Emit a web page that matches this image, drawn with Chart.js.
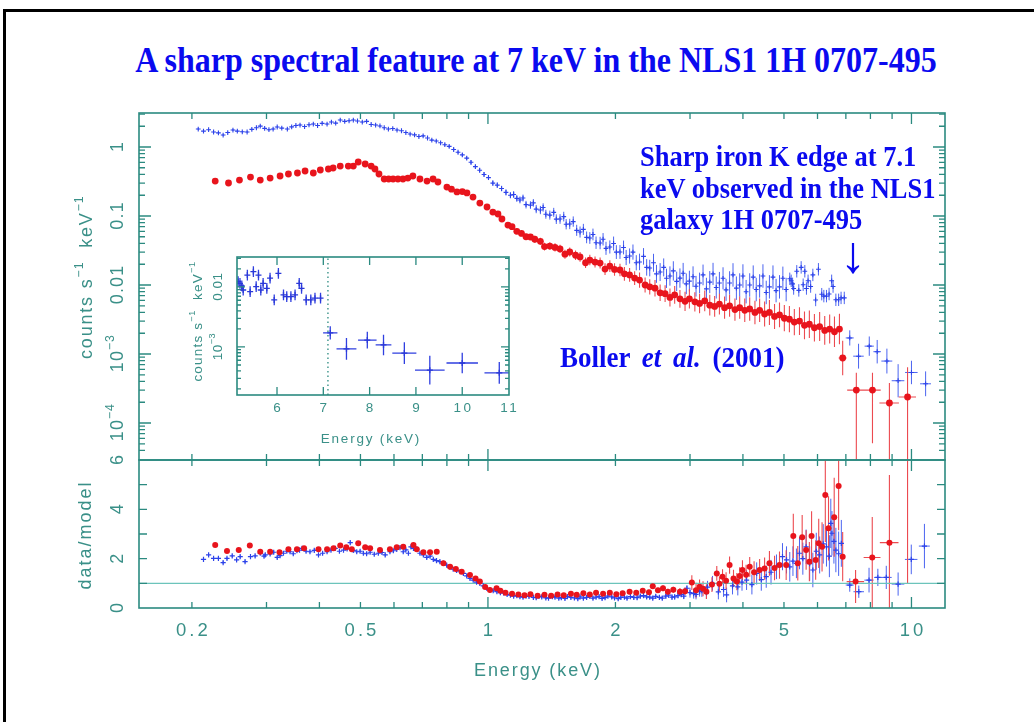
<!DOCTYPE html>
<html><head><meta charset="utf-8">
<script src="https://cdn.jsdelivr.net/npm/chart.js@4.4.1/dist/chart.umd.min.js"></script>
<style>
html,body{margin:0;padding:0;background:#fff;width:1034px;height:722px;overflow:hidden;}
#frame{position:absolute;left:3px;top:9px;width:1100px;height:800px;border-top:3px solid #000;border-left:3px solid #000;}
canvas{position:absolute;left:0;top:0;}
.t{position:absolute;font-family:'Liberation Serif','Times New Roman',serif;font-weight:bold;color:#0a0aef;white-space:nowrap;transform-origin:0 0;transform:scaleY(1.1);}
</style></head><body>
<div id="frame"></div>
<div class="t" id="title" style="left:0;width:1072px;text-align:center;top:41.5px;font-size:32px;line-height:32px;">A sharp spectral feature at 7 keV in the NLS1 1H 0707-495</div>
<canvas id="cTop" width="1034" height="722"></canvas>
<canvas id="cBot" width="1034" height="722"></canvas>
<canvas id="cIns" width="1034" height="722"></canvas>
<div class="t" style="left:640px;top:141.4px;font-size:26.5px;line-height:28.6px;">Sharp iron K edge at 7.1<br>keV observed in the NLS1<br>galaxy 1H 0707-495</div>
<div class="t" style="left:823px;top:229px;width:60px;text-align:center;font-size:52px;line-height:52px;font-weight:normal;transform:none;">↓</div>
<div class="t" style="left:560px;top:343px;font-size:27px;line-height:27px;word-spacing:5px;">Boller <i>et al.</i> (2001)</div>
<script>
// ---------------- DATA ----------------
// Energy axis
const energyTickValues = [0.2, 0.5, 1, 2, 5, 10];
const energyTickLabels = ['0.2', '0.5', '1', '2', '5', '10'];
const energyTitle = 'Energy (keV)';
// Count-rate axis
const rateTickValues = [1, 0.1, 0.01, 1e-3, 1e-4];
const rateTickLabels = ['1', '0.1', '0.01', '10^{−3}', '10^{−4}'];
const rateTitle = 'counts s^{−1}  keV^{−1}';
// Ratio axis
const ratioTickValues = [0, 2, 4, 6];
const ratioTickLabels = ['0', '2', '4', '6'];
const ratioTitle = 'data/model';
// Inset axes
const insetEnergyTickValues = [6, 7, 8, 9, 10, 11];
const insetEnergyTickLabels = ['6', '7', '8', '9', '10', '11'];
const insetRateTickValues = [0.01, 1e-3];
const insetRateTickLabels = ['0.01', '10^{−3}'];
const edgeEnergy = 7.1;
const modelRatio = 1;

// Blue spectrum: [energy keV, counts/s/keV, error (dex)]
const pnRate = [
[0.207,1.82,.012],[0.213,1.70,.012],[0.219,1.78,.012],[0.225,1.65,.012],[0.231,1.60,.012],[0.237,1.49,.012],[0.243,1.62,.012],[0.250,1.76,.012],[0.256,1.70,.012],[0.263,1.66,.012],[0.270,1.65,.012],[0.277,1.80,.012],[0.284,1.90,.012],[0.290,2.01,.012],[0.297,1.86,.012],[0.304,1.78,.012],[0.311,1.82,.012],[0.318,1.95,.012],[0.326,1.88,.012],[0.336,1.82,.012],[0.344,1.96,.012],[0.352,2.05,.012],[0.360,2.08,.012],[0.369,1.98,.012],[0.378,2.10,.012],[0.387,2.15,.012],[0.396,2.05,.012],[0.406,2.20,.012],[0.417,2.15,.012],[0.427,2.30,.012],[0.437,2.22,.012],[0.448,2.46,.012],[0.459,2.35,.012],[0.470,2.40,.012],[0.481,2.46,.012],[0.492,2.38,.012],[0.505,2.30,.012],[0.517,2.35,.012],[0.530,2.12,.012],[0.543,2.08,.012],[0.556,2.02,.012],[0.569,1.90,.012],[0.582,1.82,.012],[0.596,1.85,.012],[0.610,1.76,.012],[0.625,1.72,.012],[0.640,1.62,.012],[0.655,1.54,.012],[0.671,1.50,.015],[0.687,1.42,.015],[0.703,1.45,.015],[0.720,1.35,.015],[0.737,1.26,.015],[0.755,1.22,.015],[0.773,1.15,.015],[0.791,1.08,.02],[0.810,1.02,.02],[0.830,0.92,.02],[0.850,0.84,.02],[0.870,0.77,.025],[0.891,0.69,.025],[0.912,0.60,.03],[0.934,0.52,.03],[0.956,0.46,.03],[0.979,0.40,.035],[1.003,0.36,.035],[1.027,0.30,.04],[1.052,0.28,.04],[1.077,0.25,.04],[1.103,0.22,.045],[1.130,0.20,.045],
[1.15,0.205,.05],[1.17,0.180,.05],[1.19,0.171,.05],[1.21,0.182,.05],[1.23,0.146,.055],[1.26,0.144,.055],[1.28,0.155,.055],[1.30,0.126,.06],[1.33,0.122,.06],[1.35,0.133,.06],[1.37,0.106,.065],[1.40,0.103,.065],[1.43,0.113,.065],[1.45,0.090,.07],[1.48,0.0905,.07],[1.51,0.098,.07],[1.53,0.076,.075],[1.56,0.0766,.075],[1.59,0.083,.075],[1.62,0.062,.08],[1.65,0.0586,.08],[1.68,0.064,.08],[1.71,0.049,.085],[1.74,0.048,.085],[1.77,0.054,.085],[1.80,0.041,.09],[1.84,0.0406,.09],[1.87,0.046,.09],[1.90,0.034,.095],[1.94,0.0356,.095],[1.98,0.040,.1],[2.01,0.030,.1],[2.05,0.0301,.1],[2.09,0.035,.1],[2.12,0.025,.11],[2.16,0.0263,.11],[2.20,0.030,.11],[2.24,0.021,.11],[2.28,0.0216,.12],[2.33,0.026,.12],[2.37,0.0180,.12],[2.41,0.0176,.12],[2.46,0.021,.13],[2.50,0.0145,.13],[2.55,0.0154,.13],[2.60,0.0180,.13],[2.64,0.0125,.14],[2.69,0.0135,.14],[2.74,0.0160,.14],[2.79,0.0113,.14],[2.84,0.0126,.14],[2.89,0.0148,.15],[2.94,0.0104,.15],[2.99,0.0114,.15],[3.05,0.0132,.15],[3.10,0.0096,.15],[3.16,0.0107,.15],[3.22,0.0140,.15],[3.28,0.0088,.16],[3.34,0.0110,.16],[3.40,0.0145,.16],[3.46,0.0092,.16],[3.52,0.0107,.16],[3.59,0.0125,.16],[3.65,0.0085,.16],[3.72,0.0107,.17],[3.79,0.0140,.17],[3.86,0.0090,.17],[3.93,0.0100,.17],[4.00,0.0135,.17],[4.07,0.0080,.17],[4.15,0.0100,.17],[4.23,0.0130,.17],[4.30,0.0086,.17],[4.38,0.0097,.17],[4.46,0.0135,.17],[4.54,0.0078,.17],[4.62,0.0094,.17],[4.71,0.0130,.17],[4.79,0.0083,.17],[4.88,0.0094,.17],[4.97,0.0125,.17],[5.06,0.0086,.17],
[5.16,0.0123,.09],[5.20,0.0115,.09],[5.24,0.0104,.09],[5.27,0.0089,.09],[5.36,0.0158,.09],[5.42,0.00835,.09],[5.49,0.0180,.09],[5.55,0.0101,.09],[5.60,0.0158,.09],[5.65,0.0089,.09],[5.70,0.0115,.09],[5.78,0.0095,.09],[5.85,0.0140,.09],[5.94,0.00607,.09],[6.03,0.0169,.09],[6.14,0.00736,.09],[6.21,0.0069,.09],[6.30,0.0069,.09],[6.39,0.0074,.09],[6.48,0.0115,.09],[6.53,0.0095,.09],[6.63,0.0061,.09],[6.73,0.0061,.09],[6.82,0.0065,.09],[6.94,0.0065,.09]
];
// Blue, above the edge: [energy, rate, err low (dex), err high (dex), energy half-width]
const pnRateEdge = [[7.15,.00171,.11,.11,.155],[7.50,.00093,.18,.18,.215],[7.95,.0013,.14,.14,.2],[8.30,.00108,.17,.17,.17],[8.75,.00079,.18,.18,.26],[9.30,.00041,.24,.24,.32],[10.0,.00054,.17,.17,.34],[10.8,.00037,.18,.18,.32]];

// Red spectrum: [energy keV, counts/s/keV, error (dex)]
const mosRate = [
[0.227,.321,.01],[0.244,.301,.01],[0.259,.332,.01],[0.275,.367,.01],[0.290,.332,.01],[0.306,.355,.01],[0.323,.380,.01],[0.338,.406,.01],[0.355,.420,.01],[0.370,.449,.01],[0.387,.420,.01],[0.402,.464,.01],[0.420,.480,.01],[0.431,.496,.01],[0.448,.530,.01],[0.468,.530,.01],[0.481,.530,.01],[0.494,.606,.01],[0.513,.567,.01],[0.530,.530,.01],[0.541,.480,.01],[0.553,.406,.01],[0.569,.344,.01],[0.583,.344,.01],[0.597,.344,.01],[0.613,.344,.01],[0.630,.344,.01],[0.647,.355,.01],[0.665,.380,.01],[0.691,.344,.01],[0.718,.321,.01],[0.742,.344,.01],[0.762,.311,.015],[0.800,.263,.015],[0.820,.245,.015],[0.845,.223,.015],[0.870,.226,.015],[0.892,.216,.015],[0.922,.188,.02],[0.957,.154,.02],[0.995,.135,.02],[1.027,.114,.025],[1.056,.107,.025],[1.079,.0905,.025],[1.115,.074,.03],
[1.14,.070,.035],[1.17,.060,.04],[1.20,.056,.04],[1.23,.050,.045],[1.26,.0496,.045],[1.29,.046,.05],[1.33,.043,.05],[1.36,.036,.055],[1.40,.0367,.055],[1.44,.035,.06],[1.48,.0333,.06],[1.52,.028,.065],[1.56,.0301,.065],[1.61,.027,.07],[1.65,.0255,.07],[1.70,.021,.075],[1.74,.023,.075],[1.79,.0215,.08],[1.84,.0208,.08],[1.89,.017,.085],[1.94,.0188,.085],[1.99,.0168,.09],[2.05,.0165,.09],[2.10,.0145,.1],[2.16,.0140,.1],[2.22,.0126,.1],[2.28,.0118,.11],[2.35,.0100,.11],[2.41,.0094,.11],[2.48,.0090,.12],[2.55,.0077,.12],[2.62,.0075,.12],[2.69,.0066,.13],[2.76,.0072,.13],[2.84,.0063,.13],[2.92,.0058,.14],[2.99,.0063,.14],[3.08,.0057,.14],[3.16,.0054,.14],[3.25,.0059,.15],[3.34,.0051,.15],[3.43,.0049,.15],[3.52,.0053,.15],[3.62,.0047,.16],[3.72,.0050,.16],[3.83,.0044,.16],[3.93,.0047,.16],[4.04,.0043,.17],[4.15,.0045,.17],[4.27,.0040,.17],[4.38,.0043,.17],[4.50,.0038,.18],[4.62,.0040,.18],[4.75,.0035,.18],[4.88,.0037,.18],[5.01,.0033,.19],[5.15,.0032,.19],[5.29,.0029,.19],[5.44,.0030,.2],[5.59,.0026,.2],[5.74,.0027,.2],[5.90,.0024,.2],[6.07,.0025,.21],[6.24,.0022,.21],[6.41,.0023,.21],[6.58,.0021,.22],[6.76,.0023,.22]
];
const mosRateEdge = [[6.88,8.75e-4,.25,.25,.15],[7.41,3.0e-4,2,.25,.36],[8.09,3.0e-4,.77,.25,.37],[8.87,1.95e-4,2,.29,.47],[9.79,2.38e-4,2,.43,.46]];

// Blue data/model: [energy, ratio, error]
const pnRatio = [
[0.213,1.97,.06],[0.219,2.15,.06],[0.225,2.01,.06],[0.231,2.01,.06],[0.237,1.84,.06],[0.242,2.01,.06],[0.249,2.11,.06],[0.255,1.95,.06],[0.260,2.08,.06],[0.267,1.88,.06],[0.275,2.08,.06],[0.282,2.11,.06],[0.290,2.22,.06],[0.296,2.10,.06],[0.298,2.15,.06],[0.306,2.19,.06],[0.312,2.26,.06],[0.318,2.05,.06],[0.323,2.12,.06],[0.329,2.22,.06],[0.335,2.30,.06],[0.341,2.28,.06],[0.347,2.20,.06],[0.354,2.32,.06],[0.359,2.35,.06],[0.364,2.42,.06],[0.372,2.30,.06],[0.380,2.28,.06],[0.389,2.34,.06],[0.398,2.15,.06],[0.407,2.22,.06],[0.417,2.28,.06],[0.426,2.35,.06],[0.436,2.42,.06],[0.446,2.30,.06],[0.456,2.35,.06],[0.465,2.40,.06],[0.473,2.65,.06],[0.481,2.34,.06],[0.490,2.28,.06],[0.499,2.30,.06],[0.508,2.22,.06],[0.517,2.20,.06],[0.527,2.26,.06],[0.539,2.18,.06],[0.551,2.22,.06],[0.562,2.25,.06],[0.572,2.15,.06],[0.587,2.28,.06],[0.598,2.32,.06],[0.609,2.38,.06],[0.620,2.45,.06],[0.631,2.28,.06],[0.640,2.36,.06],[0.649,2.22,.06],[0.658,2.48,.06],[0.667,2.42,.06],[0.679,2.40,.06],[0.691,2.22,.06],[0.704,2.15,.06],[0.717,2.05,.06],[0.730,2.10,.06],[0.743,1.97,.06],[0.756,1.92,.06],[0.770,1.88,.06],[0.784,1.82,.06],[0.799,1.74,.06],[0.813,1.66,.06],[0.828,1.57,.06],[0.843,1.52,.06],[0.859,1.47,.06],[0.875,1.40,.06],[0.891,1.30,.06],[0.907,1.20,.05],[0.923,1.13,.05],[0.940,1.05,.05],[0.957,1.00,.05],[0.975,0.90,.05],[0.993,0.80,.05],[1.011,0.74,.05],[1.029,0.70,.05],
[1.05,.66,.07],[1.07,.62,.07],[1.09,.60,.07],[1.11,.55,.07],[1.13,.52,.07],[1.15,.48,.07],[1.17,.50,.07],[1.19,.46,.07],[1.21,.44,.07],[1.23,.48,.07],[1.25,.47,.07],[1.28,.43,.07],[1.30,.42,.07],[1.32,.47,.07],[1.34,.45,.07],[1.37,.41,.07],[1.39,.40,.07],[1.42,.46,.07],[1.44,.44,.07],[1.47,.40,.07],[1.49,.42,.07],[1.52,.39,.07],[1.54,.46,.07],[1.57,.43,.07],[1.60,.41,.07],[1.63,.38,.07],[1.65,.45,.07],[1.68,.40,.07],[1.71,.43,.07],[1.74,.47,.07],[1.77,.40,.07],[1.80,.44,.07],[1.83,.46,.07],[1.86,.39,.07],[1.89,.42,.07],[1.92,.48,.07],[1.96,.45,.07],[1.99,.41,.07],[2.03,.38,.07],[2.06,.43,.07],[2.10,.44,.07],[2.13,.40,.07],[2.17,.46,.07],[2.21,.43,.08],[2.25,.42,.08],[2.29,.48,.08],[2.33,.50,.08],[2.37,.45,.08],[2.41,.44,.08],[2.45,.40,.08],[2.49,.47,.08],[2.54,.43,.08],[2.58,.40,.08],[2.63,.48,.1],[2.67,.52,.1],[2.72,.44,.1],[2.76,.45,.1],[2.81,.50,.1],[2.86,.55,.12],[2.90,.48,.12],[2.95,.80,.12],[3.00,.62,.2],[3.06,.58,.2],[3.10,.55,.2],[3.16,.66,.2],[3.20,.70,.25],[3.28,.62,.25],[3.30,.85,.25],[3.39,1.00,.3],[3.50,.65,.3],[3.60,.75,.3],[3.66,.53,.3],[3.78,.90,.35],[3.89,.86,.35],[3.98,1.05,.35],[4.08,1.13,.4],[4.20,.95,.4],[4.31,1.40,.45],[4.42,1.15,.45],[4.54,1.27,.45],[4.66,1.45,.5],[4.80,1.67,.5],[4.96,2.08,.55],[5.07,1.95,.55],[5.16,1.67,.6],[5.25,1.90,.6],[5.35,1.81,.6],[5.44,2.22,.65],[5.54,2.00,.65],[5.64,2.48,.7],[5.75,1.80,.7],[5.85,1.54,.7],[5.96,2.30,.75],[6.07,2.15,.75],[6.19,2.60,.8],[6.30,2.48,.8],[6.40,2.10,.85],[6.45,3.43,1.0],[6.49,3.03,.9],[6.56,2.70,.9],[6.63,2.35,.9],[6.73,2.20,.9],[6.83,2.62,.95]
];
const pnRatioEdge = [[7.15,.93,.27,.27,.155],[7.51,.66,.25,.25,.215],[7.94,1.13,.5,.5,.2],[8.33,1.24,.35,.35,.17],[8.72,1.24,.47,.47,.26],[9.30,.97,.47,.47,.32],[9.99,1.97,.6,.6,.34],[10.73,2.51,.9,.9,.32]];

// Red data/model: [energy, ratio, error]
const mosRatio = [
[0.227,2.55,.05],[0.242,2.31,.05],[0.258,2.35,.05],[0.274,2.53,.05],[0.290,2.28,.05],[0.306,2.28,.05],[0.322,2.26,.05],[0.338,2.38,.05],[0.354,2.38,.05],[0.368,2.42,.05],[0.398,2.38,.05],[0.417,2.38,.05],[0.432,2.42,.05],[0.448,2.53,.05],[0.463,2.46,.05],[0.477,2.38,.05],[0.494,2.62,.05],[0.513,2.46,.05],[0.527,2.42,.05],[0.556,2.35,.05],[0.587,2.38,.05],[0.609,2.46,.05],[0.631,2.48,.05],[0.667,2.55,.05],[0.679,2.38,.05],[0.704,2.26,.05],[0.730,2.26,.05],[0.757,2.28,.05],[0.785,1.81,.05],[0.814,1.67,.05],[0.840,1.58,.05],[0.867,1.47,.05],[0.907,1.34,.05],[0.935,1.20,.05],[0.957,1.07,.05],[0.985,0.85,.05],[1.011,0.73,.05],[1.048,0.80,.05],
[1.07,.70,.07],[1.10,.62,.07],[1.14,.58,.07],[1.18,.55,.07],[1.22,.52,.07],[1.26,.56,.07],[1.31,.50,.07],[1.36,.54,.07],[1.41,.50,.07],[1.46,.55,.07],[1.51,.52,.07],[1.57,.58,.07],[1.62,.54,.07],[1.68,.60,.07],[1.74,.55,.07],[1.80,.62,.07],[1.87,.58,.07],[1.94,.62,.07],[2.01,.56,.07],[2.08,.60,.07],[2.16,.66,.07],[2.24,.62,.08],[2.32,.70,.08],[2.40,.64,.1],[2.45,.88,.1],[2.52,.72,.1],[2.59,.80,.12],[2.66,.66,.12],[2.74,.74,.12],[2.84,.66,.15],[2.92,.68,.15],[3.03,1.03,.3],[3.10,.72,.3],[3.16,.86,.3],[3.22,.78,.3],[3.28,.66,.3],[3.38,.95,.3],[3.47,1.40,.3],[3.52,.98,.3],[3.58,1.27,.3],[3.65,1.10,.35],[3.72,1.74,.35],[3.80,1.20,.35],[3.87,1.07,.35],[3.93,1.30,.35],[3.99,1.54,.4],[4.07,1.35,.4],[4.15,1.67,.4],[4.25,1.45,.45],[4.38,1.54,.45],[4.50,1.60,.45],[4.62,1.81,.5],[4.75,1.62,.5],[4.88,1.74,.55],[5.06,1.74,.6],[5.26,2.92,.9],[5.39,1.81,.7],[5.52,2.87,.9],[5.64,2.35,.8],[5.74,1.88,.8],[5.81,2.92,1.0],[5.94,1.95,.8],[6.04,2.62,1.0],[6.15,2.48,1.0],[6.26,4.58,1.9],[6.37,3.23,1.3],[6.57,3.68,1.6],[6.73,4.95,1.8],[6.88,2.08,1.0]
];
const mosRatioEdge = [[7.38,1.07,.87,.47,.35],[8.08,2.05,2.05,1.64,.37],[8.87,2.65,2.65,2.74,.45],[9.79,7.0,6.0,.5,.45]];

// ---------------- STYLE / HELPERS ----------------
const TEAL = '#2b8a80';
const LABEL = '#3a9088';
const AXFONT = "'Liberation Sans', Arial, Helvetica, sans-serif";
const BLUE = '#2d43ea', BLUE_ERR = '#4b64f0';
const RED = '#e8141c', RED_ERR = '#ec4a50';

function richParts(str){
  const parts=[]; const re=/\^\{([^}]*)\}/g; let last=0, m;
  while((m=re.exec(str))){ if(m.index>last) parts.push({t:str.slice(last,m.index)}); parts.push({t:m[1],sup:true}); last=re.lastIndex; }
  if(last<str.length) parts.push({t:str.slice(last)});
  return parts;
}
function drawText(ctx, str, x, y, size, spacing, rotate){
  const parts = richParts(str);
  ctx.save(); ctx.translate(x,y); if(rotate) ctx.rotate(rotate);
  ctx.fillStyle = LABEL; ctx.textAlign='left'; ctx.textBaseline='alphabetic';
  const widths=[]; let w=0;
  parts.forEach(p=>{ const fs=p.sup?size*0.68:size; ctx.font=fs+'px '+AXFONT; ctx.letterSpacing=(p.sup?spacing*0.6:spacing)+'px'; const ww=ctx.measureText(p.t).width; widths.push(ww); w+=ww; });
  w -= spacing;
  let cx=-w/2; const base=size*0.36;
  parts.forEach((p,i)=>{ const fs=p.sup?size*0.68:size; ctx.font=fs+'px '+AXFONT; ctx.letterSpacing=(p.sup?spacing*0.6:spacing)+'px'; ctx.fillText(p.t, cx, p.sup? base-size*0.52 : base); cx+=widths[i]; });
  ctx.restore();
}
function logTicks(lo, hi, majorLen, minorLen){
  const out=[];
  for(let e=Math.floor(Math.log10(lo)); e<=Math.ceil(Math.log10(hi)); e++){
    for(let k=1;k<=9;k++){ const v=k*Math.pow(10,e); if(v>=lo*0.999 && v<=hi*1.001) out.push({v, len: k===1?majorLen:minorLen}); }
  }
  return out;
}
function drawTicks(ctx, chart, xt, yt){
  const a=chart.chartArea, sx=chart.scales.x, sy=chart.scales.y;
  ctx.save(); ctx.strokeStyle=TEAL; ctx.lineWidth=1.3; ctx.beginPath();
  xt.forEach(t=>{ const p=sx.getPixelForValue(t.v); if(p<a.left+1||p>a.right-1) return; ctx.moveTo(p,a.top); ctx.lineTo(p,a.top+t.len); ctx.moveTo(p,a.bottom); ctx.lineTo(p,a.bottom-t.len); });
  yt.forEach(t=>{ const p=sy.getPixelForValue(t.v); if(p<a.top+1||p>a.bottom-1) return; ctx.moveTo(a.left,p); ctx.lineTo(a.left+t.len,p); ctx.moveTo(a.right,p); ctx.lineTo(a.right-t.len,p); });
  ctx.stroke();
  ctx.lineWidth=1.6; ctx.strokeRect(a.left,a.top,a.right-a.left,a.bottom-a.top);
  ctx.restore();
}
const errorBars = {
  id:'errorBars',
  beforeDatasetsDraw(chart){
    const {ctx, chartArea:a} = chart; const sx=chart.scales.x, sy=chart.scales.y;
    ctx.save(); ctx.beginPath(); ctx.rect(a.left,a.top,a.right-a.left,a.bottom-a.top); ctx.clip();
    const dsets = chart.data.datasets.slice().reverse();
    dsets.forEach(d=>{
      if(!d.errors) return;
      ctx.strokeStyle=d.errorColor; ctx.lineWidth=d.errorWidth||1; ctx.beginPath();
      d.data.forEach((p,i)=>{
        const e=d.errors[i]; const px=sx.getPixelForValue(p.x), py=sy.getPixelForValue(p.y);
        const y1=Math.max(Math.min(sy.getPixelForValue(e[0]),a.bottom+50),a.top-50), y2=Math.max(Math.min(sy.getPixelForValue(e[1]),a.bottom+50),a.top-50);
        ctx.moveTo(px,y1); ctx.lineTo(px,y2);
        if(e[2]!=null){ ctx.moveTo(sx.getPixelForValue(e[2]),py); ctx.lineTo(sx.getPixelForValue(e[3]),py); }
      });
      ctx.stroke();
    });
    ctx.restore();
  }
};
function logErrors(dense, edge){
  return dense.map(p=>[p[1]/Math.pow(10,p[2]), p[1]*Math.pow(10,p[2]), null, null])
    .concat(edge.map(p=>[p[1]/Math.pow(10,p[2]), p[1]*Math.pow(10,p[3]), p[0]-p[4], p[0]+p[4]]));
}
function linErrors(dense, edge){
  return dense.map(p=>[p[1]-p[2], p[1]+p[2], null, null])
    .concat(edge.map(p=>[p[1]-p[2], p[1]+p[3], p[0]-p[4], p[0]+p[4]]));
}
function pts(dense, edge){ return dense.concat(edge).map(p=>({x:p[0], y:p[1]})); }

const commonOpts = { responsive:false, animation:false, devicePixelRatio:1, events:[], plugins:{legend:{display:false}, tooltip:{enabled:false}} };
const eTicks = logTicks(0.15, 12, 11, 6);

// ---------------- TOP PANEL ----------------
new Chart(document.getElementById('cTop'), {
  type:'scatter',
  data:{ datasets:[
    { data: pts(mosRate, mosRateEdge), errors: logErrors(mosRate, mosRateEdge), errorColor:RED_ERR, errorWidth:1.1,
      pointStyle:'circle', pointRadius:3.4, backgroundColor:RED, borderColor:RED, borderWidth:0, clip:0 },
    { data: pts(pnRate, pnRateEdge), errors: logErrors(pnRate, pnRateEdge), errorColor:BLUE_ERR, errorWidth:1,
      pointStyle:'cross', pointRadius:2.4, borderColor:BLUE, borderWidth:1.1, clip:0 }
  ]},
  options: Object.assign({}, commonOpts, {
    layout:{ padding:{ left:139, top:113, right:89, bottom:262 } },
    scales:{ x:{ type:'logarithmic', min:0.15, max:12, display:false }, y:{ type:'logarithmic', min:2.91e-5, max:3.11, display:false } }
  }),
  plugins:[ errorBars, { id:'topAxes', afterDraw(chart){
    const ctx=chart.ctx, sy=chart.scales.y;
    drawTicks(ctx, chart, eTicks, logTicks(2.91e-5, 3.11, 12, 6));
    rateTickValues.forEach((v,i)=> drawText(ctx, rateTickLabels[i], 117, sy.getPixelForValue(v), 18, 1.2, -Math.PI/2));
    drawText(ctx, rateTitle, 86, 278, 18, 1.8, -Math.PI/2);
  }}]
});

// ---------------- BOTTOM PANEL ----------------
new Chart(document.getElementById('cBot'), {
  type:'scatter',
  data:{ datasets:[
    { data: pts(mosRatio, mosRatioEdge), errors: linErrors(mosRatio, mosRatioEdge), errorColor:RED_ERR, errorWidth:1.1,
      pointStyle:'circle', pointRadius:3, backgroundColor:RED, borderColor:RED, borderWidth:0, clip:0 },
    { data: pts(pnRatio, pnRatioEdge), errors: linErrors(pnRatio, pnRatioEdge), errorColor:BLUE_ERR, errorWidth:1,
      pointStyle:'cross', pointRadius:2.6, borderColor:BLUE, borderWidth:1.2, clip:0 },
    { data:[{x:0.15,y:modelRatio},{x:12,y:modelRatio}], showLine:true, pointRadius:0, borderColor:'#6cc4bb', borderWidth:1.2, clip:0 }
  ]},
  options: Object.assign({}, commonOpts, {
    layout:{ padding:{ left:139, top:460, right:89, bottom:114 } },
    scales:{ x:{ type:'logarithmic', min:0.15, max:12, display:false }, y:{ type:'linear', min:0, max:6, display:false } }
  }),
  plugins:[ errorBars, { id:'botAxes', afterDraw(chart){
    const ctx=chart.ctx, sx=chart.scales.x, sy=chart.scales.y;
    drawTicks(ctx, chart, eTicks, [0,1,2,3,4,5,6].map(v=>({v, len:8})));
    energyTickValues.forEach((v,i)=> drawText(ctx, energyTickLabels[i], sx.getPixelForValue(v), 629, 18.5, 3, 0));
    ratioTickValues.forEach((v,i)=> drawText(ctx, ratioTickLabels[i], 117, sy.getPixelForValue(v), 18, 1, -Math.PI/2));
    drawText(ctx, ratioTitle, 85, 536, 18, 2, -Math.PI/2);
    drawText(ctx, energyTitle, 537, 670, 18, 1.9, 0);
  }}]
});

// ---------------- INSET ----------------
const pnInset = pnRate.filter(p=>p[0]>=5.1);
new Chart(document.getElementById('cIns'), {
  type:'scatter',
  data:{ datasets:[
    { data: pts(pnInset, pnRateEdge), errors: logErrors(pnInset, pnRateEdge), errorColor:'#2f3fe0', errorWidth:1.3,
      pointStyle:'cross', pointRadius:3, borderColor:'#2a38d8', borderWidth:1.3, clip:0 },
    { data:[{x:edgeEnergy,y:1e-5},{x:edgeEnergy,y:1}], showLine:true, pointRadius:0, borderColor:TEAL, borderWidth:1.3, borderDash:[1.5,3], clip:0 }
  ]},
  options: Object.assign({}, commonOpts, {
    layout:{ padding:{ left:237, top:257, right:525, bottom:327 } },
    scales:{ x:{ type:'linear', min:5.136, max:11.01, display:false }, y:{ type:'logarithmic', min:1.58e-4, max:0.0316, display:false } }
  }),
  plugins:[ { id:'insetBg', beforeDraw(chart){ const a=chart.chartArea, c=chart.ctx; c.save(); c.fillStyle='#fff'; c.fillRect(a.left,a.top,a.right-a.left,a.bottom-a.top); c.restore(); } },
    errorBars, { id:'insetAxes', afterDraw(chart){
    const ctx=chart.ctx, sx=chart.scales.x, sy=chart.scales.y;
    drawTicks(ctx, chart, [6,7,8,9,10].map(v=>({v, len:8})), logTicks(1.58e-4, 0.0316, 8, 4));
    insetEnergyTickValues.forEach((v,i)=> drawText(ctx, insetEnergyTickLabels[i], sx.getPixelForValue(v), 407, 13.5, 2.5, 0));
    insetRateTickValues.forEach((v,i)=> drawText(ctx, insetRateTickLabels[i], 217, sy.getPixelForValue(v), 13.5, 0.5, -Math.PI/2));
    drawText(ctx, rateTitle, 197, 322, 13.5, 1.2, -Math.PI/2);
    drawText(ctx, energyTitle, 370, 438, 13.5, 1.8, 0);
  }}]
});
</script>
</body></html>
